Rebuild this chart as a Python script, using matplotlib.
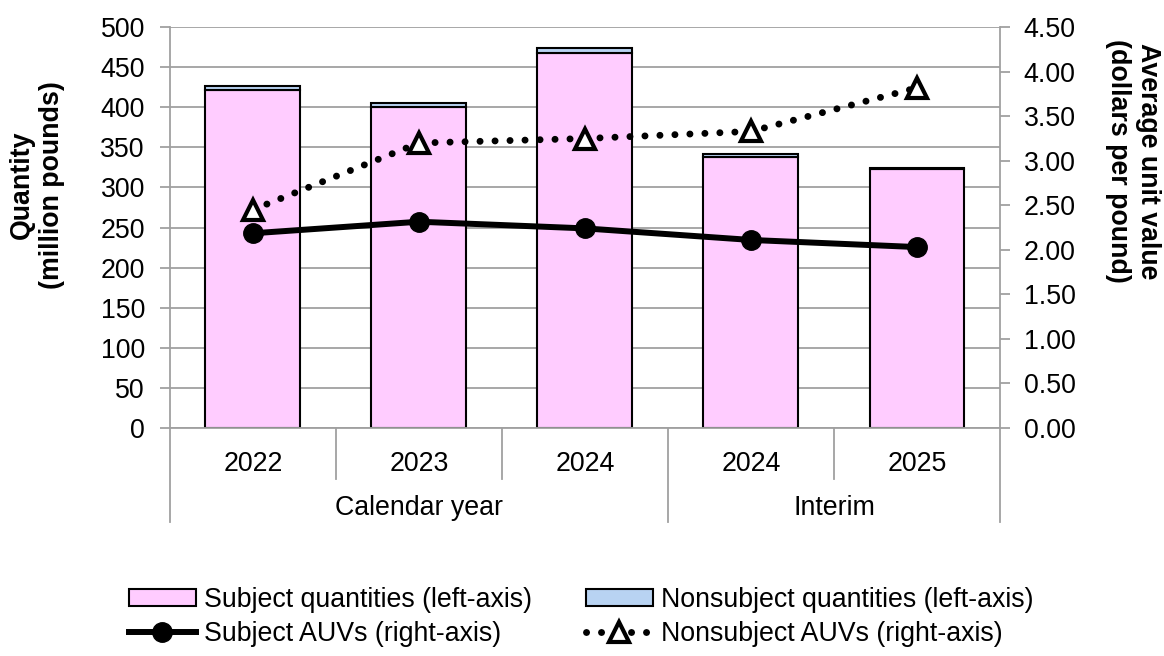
import matplotlib
matplotlib.use('Agg')
import matplotlib.pyplot as plt
import numpy as np
from matplotlib.patches import Patch
from matplotlib.lines import Line2D
import matplotlib.transforms as mtransforms

plt.rcParams['font.family'] = ['Liberation Sans', 'DejaVu Sans']

# ---- data ----
years = ['2022', '2023', '2024', '2024', '2025']
groups = ['Calendar year', 'Interim']
group_sizes = [3, 2]
subject_qty = [421.5, 401.0, 468.5, 338.5, 322.5]
nonsubject_qty = [5.0, 5.0, 5.5, 3.5, 2.0]
subject_auv = [2.185, 2.315, 2.24, 2.11, 2.03]
nonsubject_auv = [2.45, 3.20, 3.25, 3.33, 3.82]
left_ticks = list(range(0, 501, 50))
right_ticks = [0.0, 0.5, 1.0, 1.5, 2.0, 2.5, 3.0, 3.5, 4.0, 4.5]
labels = ['Subject quantities (left-axis)', 'Nonsubject quantities (left-axis)',
          'Subject AUVs (right-axis)', 'Nonsubject AUVs (right-axis)']

PINK = '#FFCCFF'
BLUE = '#B8D3F2'
GRAY = '#A0A0A0'
FS = 19.3

SUB_LW, SUB_MS = 4.3, 14
NON_LW, NON_DASH = 5.0, (0, (0.01, 2.15))
TRI_MS, TRI_MEW = 14, 3.0

fig = plt.figure(figsize=(11.64, 6.56), dpi=100)
ax = fig.add_axes([0.1460, 0.3480, 0.7131, 0.6104])
x = np.arange(len(years))
W = 0.572
ax.bar(x, subject_qty, width=W, color=PINK, edgecolor='black', linewidth=1.5, zorder=2)
ax.bar(x, nonsubject_qty, bottom=subject_qty, width=W, color=BLUE, edgecolor='black',
       linewidth=1.5, zorder=2)
ax.set_xlim(-0.5, len(years) - 0.5)
ax.set_ylim(0, 500)
ax.set_yticks(left_ticks)
ax.set_yticklabels([str(t) for t in left_ticks])
ax.grid(axis='y', color=GRAY, lw=1.3, zorder=0)
ax.set_axisbelow(True)
ax.spines['top'].set_visible(False)
ax.spines['right'].set_visible(False)
for s in ['left', 'bottom']:
    ax.spines[s].set_color(GRAY)
    ax.spines[s].set_linewidth(1.3)
ax.tick_params(axis='y', direction='out', length=7, color=GRAY, width=1.3,
               labelsize=FS, pad=11)
ax.set_xticks([])

ax2 = ax.twinx()
ax2.set_ylim(0, 4.5)
ax2.set_yticks(right_ticks)
ax2.set_yticklabels([f'{t:.2f}' for t in right_ticks])
for s in ['top', 'left', 'bottom']:
    ax2.spines[s].set_visible(False)
ax2.spines['right'].set_color(GRAY)
ax2.spines['right'].set_linewidth(1.3)
ax2.tick_params(axis='y', direction='out', length=7, color=GRAY, width=1.3,
                labelsize=FS, pad=10)

ax2.plot(x, subject_auv, color='black', lw=SUB_LW, marker='o', ms=SUB_MS, zorder=3,
         solid_capstyle='butt')
ax2.plot(x, nonsubject_auv, color='black', lw=NON_LW, linestyle=NON_DASH,
         dash_capstyle='round', marker='^', ms=TRI_MS, mfc='white', mec='black', mew=TRI_MEW,
         zorder=4)

# ---- two-level category axis ----
trans = mtransforms.blended_transform_factory(ax.transData, ax.transAxes)
for xi, lab in zip(x, years):
    ax.text(xi, -0.0907, lab, transform=trans, ha='center', va='center', fontsize=FS)
start = 0
bounds = [-0.5]
for g, n in zip(groups, group_sizes):
    center = start + (n - 1) / 2
    ax.text(center, -0.2005, g, transform=trans, ha='center', va='center', fontsize=FS)
    for k in range(1, n):
        xs = start + k - 0.5
        ax.plot([xs, xs], [0, -0.128], transform=trans, color=GRAY, lw=1.3, clip_on=False)
    start += n
    bounds.append(start - 0.5)
for xs in bounds:
    ax.plot([xs, xs], [0, -0.2355], transform=trans, color=GRAY, lw=1.3, clip_on=False)

# ---- axis titles ----
fig.text(37 / 1164, 1 - 185 / 656, 'Quantity\n(million pounds)', rotation=90,
         ha='center', va='center', fontsize=FS, fontweight='bold', multialignment='center',
         linespacing=1.2)
fig.text(1133 / 1164, 1 - 161 / 656, 'Average unit value\n(dollars per pound)', rotation=270,
         ha='center', va='center', fontsize=FS, fontweight='bold', multialignment='center',
         linespacing=1.2)

# ---- legend ----
h_sq = Patch(facecolor=PINK, edgecolor='black', lw=1.5)
h_nq = Patch(facecolor=BLUE, edgecolor='black', lw=1.5)
h_sa = Line2D([], [], color='black', lw=SUB_LW, marker='o', ms=SUB_MS)
h_na = Line2D([], [], color='black', lw=NON_LW, linestyle=NON_DASH, dash_capstyle='round',
              marker='^', ms=TRI_MS, mfc='white', mec='black', mew=TRI_MEW)
fig.legend([h_sq, h_sa, h_nq, h_na], [labels[0], labels[2], labels[1], labels[3]],
           ncol=2, loc='center', bbox_to_anchor=(581 / 1164, 1 - 617 / 656), frameon=False,
           fontsize=FS, handlelength=2.5, handleheight=0.55, columnspacing=2.0,
           handletextpad=0.3, labelspacing=0.3, borderpad=0)

fig.savefig('out.png', dpi=100)
